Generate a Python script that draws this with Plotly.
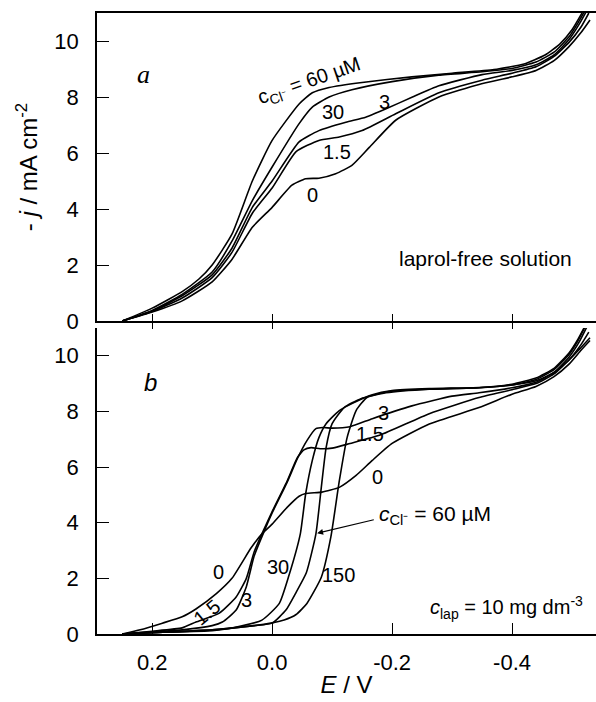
import plotly.graph_objects as go

# ---------------- data (E / V, -j / mA cm^-2) ----------------
# panel a : laprol-free solution, c_Cl- in uM
E_a_0 = [0.25, 0.2, 0.15, 0.1, 0.067, 0.033, 0.0, -0.033, -0.056, -0.078, -0.106, -0.133, -0.162, -0.206, -0.278, -0.345, -0.4, -0.44, -0.47, -0.495, -0.515, -0.53]
J_a_0 = [0, 0.32, 0.72, 1.4, 2.2, 3.35, 4.06, 4.85, 5.08, 5.1, 5.26, 5.56, 6.2, 7.17, 8.0, 8.45, 8.72, 8.95, 9.3, 9.8, 10.3, 10.75]
E_a_15 = [0.25, 0.2, 0.15, 0.1, 0.067, 0.033, 0.0, -0.04, -0.078, -0.112, -0.15, -0.206, -0.278, -0.35, -0.4, -0.44, -0.47, -0.495, -0.515, -0.528]
J_a_15 = [0, 0.34, 0.82, 1.55, 2.45, 3.85, 4.75, 6.05, 6.45, 6.57, 6.8, 7.4, 8.15, 8.6, 8.85, 9.08, 9.45, 9.95, 10.5, 11.0]
E_a_3 = [0.25, 0.2, 0.15, 0.1, 0.067, 0.033, 0.0, -0.045, -0.078, -0.123, -0.156, -0.19, -0.234, -0.278, -0.35, -0.4, -0.44, -0.47, -0.495, -0.512, -0.525]
J_a_3 = [0, 0.36, 0.9, 1.65, 2.6, 4.06, 5.0, 6.4, 6.8, 7.1, 7.28, 7.58, 8.0, 8.4, 8.8, 8.95, 9.15, 9.5, 10.05, 10.6, 11.1]
E_a_30 = [0.25, 0.2, 0.15, 0.1, 0.067, 0.033, 0.0, -0.045, -0.067, -0.095, -0.133, -0.2, -0.278, -0.35, -0.4, -0.44, -0.47, -0.495, -0.51, -0.522]
J_a_30 = [0, 0.38, 0.95, 1.75, 2.85, 4.3, 5.5, 7.05, 7.64, 8.0, 8.26, 8.55, 8.78, 8.9, 9.02, 9.25, 9.6, 10.15, 10.65, 11.1]
E_a_60 = [0.25, 0.2, 0.15, 0.122, 0.1, 0.067, 0.033, 0.0, -0.045, -0.067, -0.095, -0.15, -0.233, -0.3, -0.37, -0.42, -0.455, -0.48, -0.5, -0.518]
J_a_60 = [0, 0.46, 1.05, 1.5, 2.0, 3.1, 5.0, 6.45, 7.75, 8.15, 8.34, 8.52, 8.72, 8.85, 8.98, 9.18, 9.5, 9.9, 10.4, 11.05]

# panel b : c_lap = 10 mg dm-3, c_Cl- in uM
E_b_0 = [0.25, 0.22, 0.183, 0.15, 0.127, 0.093, 0.067, 0.035, 0.017, 0.0, -0.025, -0.045, -0.056, -0.083, -0.112, -0.14, -0.167, -0.2, -0.262, -0.345, -0.4, -0.44, -0.47, -0.495, -0.515, -0.53]
J_b_0 = [0, 0.15, 0.39, 0.62, 0.9, 1.45, 2.0, 3.1, 3.6, 3.95, 4.55, 4.95, 5.05, 5.1, 5.27, 5.7, 6.24, 6.85, 7.55, 8.14, 8.62, 8.9, 9.25, 9.7, 10.2, 10.55]
E_b_15 = [0.25, 0.2, 0.15, 0.127, 0.088, 0.06, 0.043, 0.03, 0.015, 0.0, -0.025, -0.042, -0.053, -0.065, -0.08, -0.1, -0.13, -0.18, -0.262, -0.345, -0.4, -0.44, -0.47, -0.495, -0.515, -0.528]
J_b_15 = [0, 0.1, 0.22, 0.43, 0.75, 1.33, 2.0, 2.95, 3.7, 4.4, 5.5, 6.34, 6.62, 6.7, 6.66, 6.68, 6.85, 7.15, 7.92, 8.5, 8.78, 9.0, 9.35, 9.85, 10.4, 10.85]
E_b_3 = [0.25, 0.2, 0.15, 0.1, 0.083, 0.06, 0.043, 0.03, 0.015, 0.0, -0.025, -0.042, -0.058, -0.073, -0.085, -0.1, -0.13, -0.167, -0.233, -0.3, -0.345, -0.4, -0.44, -0.47, -0.495, -0.512, -0.525]
J_b_3 = [0, 0.08, 0.15, 0.3, 0.43, 0.86, 1.7, 2.8, 3.6, 4.35, 5.45, 6.3, 6.95, 7.38, 7.42, 7.4, 7.45, 7.74, 8.2, 8.55, 8.67, 8.85, 9.05, 9.4, 9.95, 10.5, 11.05]
E_b_30 = [0.25, 0.2, 0.1, 0.072, 0.017, -0.012, -0.028, -0.047, -0.056, -0.067, -0.078, -0.09, -0.112, -0.133, -0.167, -0.2, -0.262, -0.345, -0.4, -0.44, -0.47, -0.495, -0.51, -0.522]
J_b_30 = [0, 0.05, 0.12, 0.2, 0.5, 1.1, 2.1, 3.6, 5.05, 6.24, 7.06, 7.56, 8.03, 8.28, 8.6, 8.75, 8.82, 8.86, 8.95, 9.15, 9.5, 10.05, 10.55, 11.05]
E_b_60 = [0.25, 0.2, 0.1, 0.03, 0.0, -0.023, -0.04, -0.057, -0.073, -0.082, -0.09, -0.1, -0.12, -0.148, -0.19, -0.262, -0.345, -0.4, -0.44, -0.47, -0.495, -0.51, -0.52]
J_b_60 = [0, 0.05, 0.15, 0.3, 0.39, 0.86, 1.5, 2.2, 3.6, 5.27, 6.7, 7.56, 8.14, 8.46, 8.67, 8.8, 8.85, 8.98, 9.2, 9.55, 10.1, 10.6, 11.0]
E_b_150 = [0.25, 0.2, 0.1, 0.03, 0.0, -0.02, -0.04, -0.058, -0.082, -0.098, -0.112, -0.125, -0.14, -0.158, -0.192, -0.262, -0.345, -0.4, -0.44, -0.47, -0.495, -0.515, -0.53]
J_b_150 = [0, 0.05, 0.15, 0.3, 0.4, 0.5, 0.7, 1.1, 2.04, 3.5, 5.5, 7.06, 8.03, 8.5, 8.71, 8.8, 8.85, 8.95, 9.1, 9.4, 9.85, 10.3, 10.65]

x_tickvals = [0.2, 0.0, -0.2, -0.4]
x_ticktext = ["0.2", "0.0", "-0.2", "-0.4"]
y_tickvals = [0, 2, 4, 6, 8, 10]
y_ticktext = ["0", "2", "4", "6", "8", "10"]

FONT = "Liberation Sans, Arial, sans-serif"
LINE = dict(color="black", width=1.6, shape="spline", smoothing=0.5)

fig = go.Figure()
for E, J in [(E_a_0, J_a_0), (E_a_15, J_a_15), (E_a_3, J_a_3), (E_a_30, J_a_30), (E_a_60, J_a_60)]:
    fig.add_trace(go.Scatter(x=E, y=J, mode="lines", line=LINE, xaxis="x2", yaxis="y2",
                             showlegend=False, hoverinfo="skip"))
for E, J in [(E_b_0, J_b_0), (E_b_15, J_b_15), (E_b_3, J_b_3), (E_b_30, J_b_30), (E_b_60, J_b_60), (E_b_150, J_b_150)]:
    fig.add_trace(go.Scatter(x=E, y=J, mode="lines", line=LINE, xaxis="x", yaxis="y",
                             showlegend=False, hoverinfo="skip"))
# helper invisible trace for the overlay axis (outer halves of crossing ticks)
fig.add_trace(go.Scatter(x=[0.0], y=[-5], mode="markers", marker=dict(opacity=0),
                         xaxis="x3", yaxis="y2", showlegend=False, hoverinfo="skip"))

XR = [0.292, -0.54]
YR = [0, 11]
axis_common = dict(showgrid=False, zeroline=False, showline=True, linecolor="black",
                   linewidth=1.5, tickcolor="black", tickwidth=1.3)

fig.update_layout(
    width=596, height=702,
    margin=dict(l=97, r=0, t=13, b=68),
    paper_bgcolor="white", plot_bgcolor="white",
    font=dict(family=FONT, color="black", size=21),
    xaxis=dict(domain=[0, 1], range=XR, anchor="y", tickvals=x_tickvals, ticktext=x_ticktext,
               ticks="inside", ticklen=11, tickfont=dict(size=22), ticklabelstandoff=8,
               title=dict(text="<i>E</i> / V", font=dict(size=24), standoff=2), **axis_common),
    yaxis=dict(domain=[0, 0.4928], range=YR, anchor="x", tickvals=y_tickvals, ticktext=y_ticktext,
               ticks="inside", ticklen=12, tickfont=dict(size=22), ticklabelstandoff=12, **axis_common),
    xaxis2=dict(domain=[0, 1], range=XR, anchor="y2", tickvals=x_tickvals, ticks="inside",
                ticklen=7, showticklabels=False, mirror=True, **axis_common),
    xaxis3=dict(range=XR, anchor="y2", overlaying="x2", tickvals=x_tickvals, ticks="outside",
                ticklen=7, showticklabels=False, showgrid=False, zeroline=False, showline=False,
                tickcolor="black", tickwidth=1.3),
    yaxis2=dict(domain=[0.504, 1], range=YR, anchor="x2", tickvals=y_tickvals, ticktext=y_ticktext,
                ticks="inside", ticklen=12, tickfont=dict(size=22), ticklabelstandoff=12,
                title=dict(text="- <i>j</i> / mA cm<sup>-2</sup>", font=dict(size=24), standoff=10),
                **axis_common),
)

def lab(x, y, text, ax="x", ay="y", size=21, angle=0, family=FONT):
    fig.add_annotation(x=x, y=y, xref=ax, yref=ay, text=text, showarrow=False,
                       textangle=angle, font=dict(size=size, family=family, color="black"))

# panel a labels
lab(0.215, 8.79, "<i>a</i>", "x2", "y2", size=26, family="Liberation Serif, Times New Roman, serif")
lab(-0.063, 8.54, "c<sub>Cl⁻</sub> = 60 µM", "x2", "y2", size=20, angle=-19)
lab(-0.102, 7.46, "30", "x2", "y2", size=20)
lab(-0.188, 7.82, "3", "x2", "y2", size=20)
lab(-0.108, 6.04, "1.5", "x2", "y2", size=20)
lab(-0.068, 4.5, "0", "x2", "y2", size=20)
lab(-0.355, 2.25, "laprol-free solution", "x2", "y2", size=21)

# panel b labels
lab(0.203, 9.03, "<i>b</i>", size=24)
lab(0.09, 2.22, "0", size=20)
lab(0.108, 0.79, "1.5", size=20, angle=-40)
lab(0.042, 1.22, "3", size=20)
lab(-0.01, 2.4, "30", size=20)
lab(-0.11, 2.11, "150", size=20)
lab(-0.175, 5.63, "0", size=20)
lab(-0.163, 7.2, "1.5", size=20)
lab(-0.185, 7.96, "3", size=20)
lab(-0.272, 4.27, "<i>c</i><sub>Cl⁻</sub> = 60 µM", size=21)
lab(-0.39, 0.97, "<i>c</i><sub>lap</sub> = 10 mg dm<sup>-3</sup>", size=20)
fig.add_annotation(x=-0.075, y=3.62, ax=-0.172, ay=4.12, xref="x", yref="y", axref="x", ayref="y",
                   text="", showarrow=True, arrowhead=2, arrowsize=1, arrowwidth=1.2, arrowcolor="black")

fig.write_html("out.html", config={"displayModeBar": False},
               post_script="document.body.style.margin='0';document.body.style.padding='0';")
